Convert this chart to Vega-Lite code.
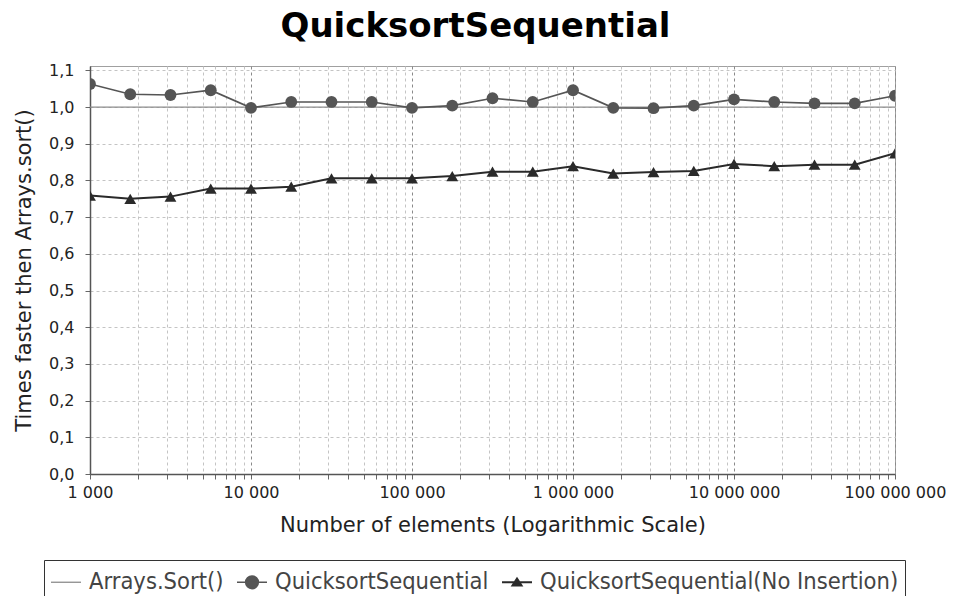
{
  "$schema": "https://vega.github.io/schema/vega-lite/v6.json",
  "width": 805,
  "height": 408,
  "autosize": "none",
  "padding": {"left": 90, "top": 66, "right": 62, "bottom": 122},
  "background": "white",
  "config": {
    "view": {"stroke": "#a0a0a0", "strokeWidth": 1},
    "font": "DejaVu Sans"
  },
  "title": {
    "text": "QuicksortSequential",
    "font": "DejaVu Sans",
    "fontWeight": "bold",
    "fontSize": 34,
    "color": "#000000",
    "anchor": "middle",
    "dx": -17,
    "offset": 18
  },
  "datasets": {
    "runs": [
      {"series": "Arrays.Sort()", "n": 1000, "t": 1.0},
      {"series": "Arrays.Sort()", "n": 1778, "t": 1.0},
      {"series": "Arrays.Sort()", "n": 3162, "t": 1.0},
      {"series": "Arrays.Sort()", "n": 5623, "t": 1.0},
      {"series": "Arrays.Sort()", "n": 10000, "t": 1.0},
      {"series": "Arrays.Sort()", "n": 17783, "t": 1.0},
      {"series": "Arrays.Sort()", "n": 31623, "t": 1.0},
      {"series": "Arrays.Sort()", "n": 56234, "t": 1.0},
      {"series": "Arrays.Sort()", "n": 100000, "t": 1.0},
      {"series": "Arrays.Sort()", "n": 177828, "t": 1.0},
      {"series": "Arrays.Sort()", "n": 316228, "t": 1.0},
      {"series": "Arrays.Sort()", "n": 562341, "t": 1.0},
      {"series": "Arrays.Sort()", "n": 1000000, "t": 1.0},
      {"series": "Arrays.Sort()", "n": 1778279, "t": 1.0},
      {"series": "Arrays.Sort()", "n": 3162278, "t": 1.0},
      {"series": "Arrays.Sort()", "n": 5623413, "t": 1.0},
      {"series": "Arrays.Sort()", "n": 10000000, "t": 1.0},
      {"series": "Arrays.Sort()", "n": 17782794, "t": 1.0},
      {"series": "Arrays.Sort()", "n": 31622777, "t": 1.0},
      {"series": "Arrays.Sort()", "n": 56234133, "t": 1.0},
      {"series": "Arrays.Sort()", "n": 100000000, "t": 1.0},
      {"series": "QuicksortSequential", "n": 1000, "t": 1.063},
      {"series": "QuicksortSequential", "n": 1778, "t": 1.035},
      {"series": "QuicksortSequential", "n": 3162, "t": 1.033},
      {"series": "QuicksortSequential", "n": 5623, "t": 1.046},
      {"series": "QuicksortSequential", "n": 10000, "t": 0.998},
      {"series": "QuicksortSequential", "n": 17783, "t": 1.014},
      {"series": "QuicksortSequential", "n": 31623, "t": 1.014},
      {"series": "QuicksortSequential", "n": 56234, "t": 1.014},
      {"series": "QuicksortSequential", "n": 100000, "t": 0.998},
      {"series": "QuicksortSequential", "n": 177828, "t": 1.004},
      {"series": "QuicksortSequential", "n": 316228, "t": 1.024},
      {"series": "QuicksortSequential", "n": 562341, "t": 1.014},
      {"series": "QuicksortSequential", "n": 1000000, "t": 1.046},
      {"series": "QuicksortSequential", "n": 1778279, "t": 0.998},
      {"series": "QuicksortSequential", "n": 3162278, "t": 0.997},
      {"series": "QuicksortSequential", "n": 5623413, "t": 1.004},
      {"series": "QuicksortSequential", "n": 10000000, "t": 1.021},
      {"series": "QuicksortSequential", "n": 17782794, "t": 1.014},
      {"series": "QuicksortSequential", "n": 31622777, "t": 1.010},
      {"series": "QuicksortSequential", "n": 56234133, "t": 1.010},
      {"series": "QuicksortSequential", "n": 100000000, "t": 1.031},
      {"series": "QuicksortSequential(No Insertion)", "n": 1000, "t": 0.759},
      {"series": "QuicksortSequential(No Insertion)", "n": 1778, "t": 0.750},
      {"series": "QuicksortSequential(No Insertion)", "n": 3162, "t": 0.756},
      {"series": "QuicksortSequential(No Insertion)", "n": 5623, "t": 0.778},
      {"series": "QuicksortSequential(No Insertion)", "n": 10000, "t": 0.778},
      {"series": "QuicksortSequential(No Insertion)", "n": 17783, "t": 0.783},
      {"series": "QuicksortSequential(No Insertion)", "n": 31623, "t": 0.806},
      {"series": "QuicksortSequential(No Insertion)", "n": 56234, "t": 0.806},
      {"series": "QuicksortSequential(No Insertion)", "n": 100000, "t": 0.806},
      {"series": "QuicksortSequential(No Insertion)", "n": 177828, "t": 0.812},
      {"series": "QuicksortSequential(No Insertion)", "n": 316228, "t": 0.824},
      {"series": "QuicksortSequential(No Insertion)", "n": 562341, "t": 0.824},
      {"series": "QuicksortSequential(No Insertion)", "n": 1000000, "t": 0.839},
      {"series": "QuicksortSequential(No Insertion)", "n": 1778279, "t": 0.819},
      {"series": "QuicksortSequential(No Insertion)", "n": 3162278, "t": 0.823},
      {"series": "QuicksortSequential(No Insertion)", "n": 5623413, "t": 0.826},
      {"series": "QuicksortSequential(No Insertion)", "n": 10000000, "t": 0.845},
      {"series": "QuicksortSequential(No Insertion)", "n": 17782794, "t": 0.839},
      {"series": "QuicksortSequential(No Insertion)", "n": 31622777, "t": 0.843},
      {"series": "QuicksortSequential(No Insertion)", "n": 56234133, "t": 0.843},
      {"series": "QuicksortSequential(No Insertion)", "n": 100000000, "t": 0.874}
    ]
  },
  "data": {"name": "runs"},
  "encoding": {
    "x": {
      "field": "n",
      "type": "quantitative",
      "title": "Number of elements (Logarithmic Scale)",
      "scale": {"type": "log", "domain": [1000, 100000000], "nice": false, "zero": false},
      "axis": {
        "values": [1000,2000,3000,4000,5000,6000,7000,8000,9000,10000,20000,30000,40000,50000,60000,70000,80000,90000,100000,200000,300000,400000,500000,600000,700000,800000,900000,1000000,2000000,3000000,4000000,5000000,6000000,7000000,8000000,9000000,10000000,20000000,30000000,40000000,50000000,60000000,70000000,80000000,90000000,100000000],
        "labelExpr": "indexof([1000,10000,100000,1000000,10000000,100000000], datum.value) >= 0 ? replace(format(datum.value, ','), regexp(',', 'g'), ' ') : ''",
        "labelOverlap": false,
        "labelFlush": false,
        "labelBound": false,
        "labelFont": "DejaVu Sans",
        "labelFontSize": 16,
        "labelColor": "#222222",
        "labelPadding": 5,
        "tickSize": 5,
        "tickColor": "#666666",
        "domainColor": "#555555",
        "domainWidth": 1.5,
        "grid": true,
        "gridDash": [3, 3],
        "gridColor": {"condition": {"test": "indexof([1000,10000,100000,1000000,10000000,100000000], datum.value) >= 0", "value": "#8a8a8a"}, "value": "#c4c4c4"},
        "gridWidth": 1,
        "titleFont": "DejaVu Sans",
        "titleFontSize": 21,
        "titleFontWeight": "normal",
        "titleColor": "#222222",
        "titlePadding": 14
      }
    },
    "y": {
      "field": "t",
      "type": "quantitative",
      "title": "Times faster then Arrays.sort()",
      "scale": {"domain": [0, 1.112], "nice": false},
      "axis": {
        "values": [0, 0.1, 0.2, 0.3, 0.4, 0.5, 0.6, 0.7, 0.8, 0.9, 1.0, 1.1],
        "labelExpr": "replace(format(datum.value, '.1f'), '.', ',')",
        "labelFont": "DejaVu Sans",
        "labelFontSize": 16,
        "labelColor": "#222222",
        "labelPadding": 11,
        "labelOverlap": false,
        "tickSize": 5,
        "tickColor": "#666666",
        "domainColor": "#555555",
        "domainWidth": 1.5,
        "grid": true,
        "gridDash": [3, 3],
        "gridColor": "#c4c4c4",
        "titleFont": "DejaVu Sans",
        "titleFontSize": 21,
        "titleFontWeight": "normal",
        "titleColor": "#222222",
        "titlePadding": 14
      }
    }
  },
  "layer": [
    {
      "mark": {"type": "line", "clip": true},
      "encoding": {
        "color": {
          "field": "series",
          "type": "nominal",
          "scale": {
            "domain": ["Arrays.Sort()", "QuicksortSequential", "QuicksortSequential(No Insertion)"],
            "range": ["#8c8c8c", "#555555", "#2a2a2a"]
          },
          "legend": {
            "orient": "none",
            "legendX": -46,
            "legendY": 494,
            "direction": "horizontal",
            "title": null,
            "strokeColor": "#333333",
            "padding": 6,
            "labelFont": "DejaVu Sans Condensed",
            "labelFontSize": 23.5,
            "labelColor": "#444444",
            "labelLimit": 600,
            "labelOffset": 7,
            "columnPadding": 9,
            "symbolSize": 900,
            "encode": {
              "symbols": {
                "update": {
                  "shape": {"signal": "datum.value === 'Arrays.Sort()' ? 'M-1,0L1,0' : datum.value === 'QuicksortSequential' ? 'M-1,0L1,0M0.42,0A0.42,0.42,0,1,1,-0.42,0A0.42,0.42,0,1,1,0.42,0Z' : 'M-1,0L1,0M0,-0.24L0.3,0.22L-0.3,0.22Z'"},
                  "fill": {"signal": "datum.value === 'Arrays.Sort()' ? 'transparent' : scale('color', datum.value)"},
                  "stroke": {"signal": "scale('color', datum.value)"},
                  "strokeWidth": {"value": 1.5},
                  "opacity": {"value": 1}
                }
              }
            }
          }
        },
        "strokeWidth": {
          "field": "series",
          "type": "nominal",
          "scale": {
            "domain": ["Arrays.Sort()", "QuicksortSequential", "QuicksortSequential(No Insertion)"],
            "range": [1.3, 2, 2]
          },
          "legend": null
        }
      }
    },
    {
      "transform": [{"filter": "datum.series !== 'Arrays.Sort()'"}],
      "mark": {"type": "point", "filled": true, "clip": true, "opacity": 1, "size": 140},
      "encoding": {
        "color": {"field": "series", "type": "nominal", "legend": null},
        "shape": {
          "field": "series",
          "type": "nominal",
          "scale": {
            "domain": ["QuicksortSequential", "QuicksortSequential(No Insertion)"],
            "range": ["circle", "triangle-up"]
          },
          "legend": null
        }
      }
    }
  ]
}
